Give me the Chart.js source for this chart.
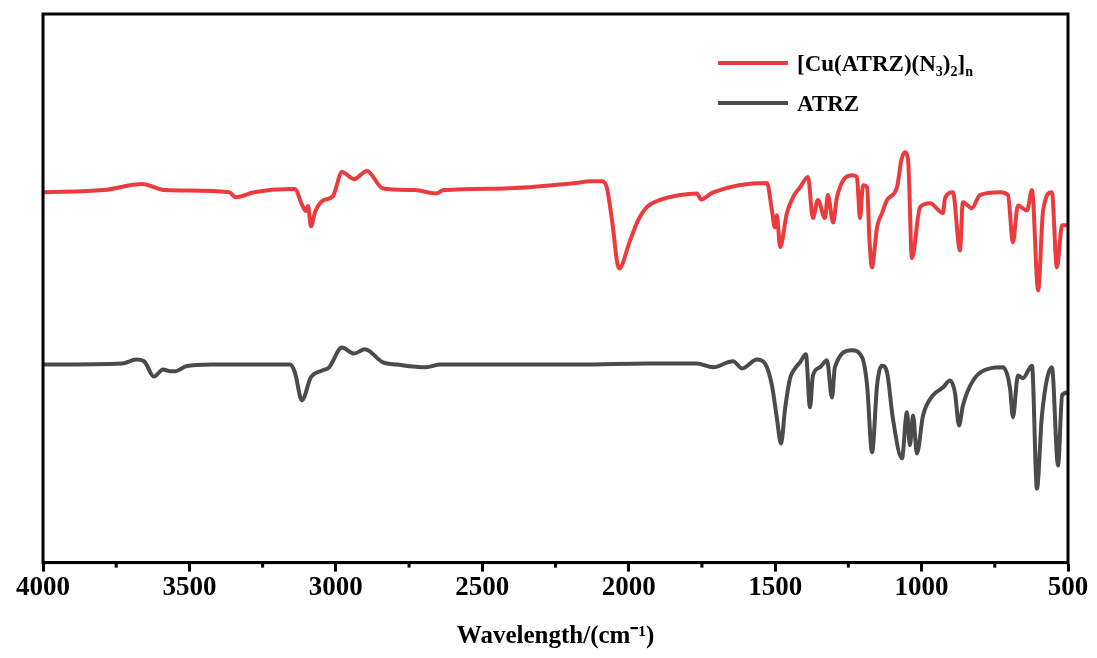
<!DOCTYPE html>
<html>
<head>
<meta charset="utf-8">
<title>IR spectra</title>
<script src="https://cdn.jsdelivr.net/npm/chart.js@4.4.1/dist/chart.umd.min.js"></script>
<style>
  html, body { margin: 0; padding: 0; background: #fff; }
  #wrap { width: 1097px; height: 658px; }
</style>
</head>
<body>
<div id="wrap"><canvas id="ir-chart" width="1097" height="658"></canvas></div>
<script>
// wavenumbers (cm-1) and transmittance (arb. units, stacked)
const cuWaves = [4000, 3792, 3662, 3583, 3365, 3341, 3280, 3157, 3140, 3116, 3102, 3095, 3085, 3071, 3047,
  3010, 2979, 2938, 2894, 2839, 2730, 2658, 2631, 2426, 2180, 2132, 2091, 2074, 2057, 2033,
  1996, 1968, 1938, 1893, 1825, 1767, 1753, 1712, 1528, 1511, 1501, 1494, 1483, 1460,
  1439, 1415, 1388, 1371, 1354, 1330, 1320, 1302, 1289, 1238, 1221, 1210, 1200, 1186, 1178,
  1169, 1162, 1152, 1135, 1118, 1084, 1069, 1057, 1046, 1033, 1005, 971, 927, 920, 893,
  869, 859, 828, 801, 732, 705, 688, 671, 640, 623, 602, 585, 555, 538, 520, 500];
const cuT = [67.5, 67.9, 69.0, 67.9, 67.5, 66.6, 67.5, 68.1, 68.1, 65.3, 64.1, 65.0, 61.3, 63.9, 65.9,
  66.8, 71.2, 69.9, 71.4, 68.2, 67.9, 67.3, 67.9, 68.2, 69.2, 69.5, 69.5, 68.2, 62.4, 53.6,
  58.6, 62.4, 64.8, 66.1, 67.0, 67.3, 66.2, 67.5, 69.2, 64.2, 61.1, 63.3, 57.5, 63.7,
  66.6, 68.4, 70.3, 62.8, 66.1, 62.8, 67.0, 62.0, 66.6, 70.6, 70.3, 62.8, 68.8, 68.4, 58.8,
  53.8, 56.4, 61.1, 63.7, 66.1, 68.4, 73.4, 74.8, 73.4, 55.5, 64.8, 65.5, 63.7, 66.4, 67.5,
  56.9, 65.7, 64.6, 67.0, 67.5, 67.0, 58.4, 65.1, 64.2, 67.9, 49.6, 64.2, 67.5, 53.8, 61.5, 61.5];

const atrzWaves = [4000, 3730, 3682, 3655, 3621, 3590, 3566, 3546, 3512, 3426, 3157, 3140, 3116, 3085, 3047,
  3023, 2979, 2938, 2901, 2839, 2791, 2692, 2644, 2166, 1938, 1767, 1712, 1644, 1613, 1562,
  1535, 1511, 1494, 1480, 1466, 1449, 1432, 1415, 1395, 1381, 1371, 1347, 1323, 1306, 1296,
  1238, 1203, 1186, 1169, 1152, 1135, 1118, 1098, 1067, 1050, 1040, 1029, 1016, 995, 961,
  927, 903, 886, 872, 859, 824, 766, 722, 698, 688, 671, 654, 623, 606, 589, 555,
  534, 520, 500];
const atrzT = [36.1, 36.3, 37.0, 36.7, 33.9, 35.2, 34.9, 34.9, 35.8, 36.1, 36.1, 34.7, 29.6, 33.8, 35.0,
  35.6, 39.2, 38.1, 38.9, 36.5, 36.1, 35.6, 36.1, 36.1, 36.3, 36.3, 35.6, 36.7, 35.4, 37.0,
  36.3, 32.3, 26.3, 21.7, 28.1, 33.6, 35.4, 36.5, 38.0, 28.3, 34.1, 35.6, 36.9, 30.1, 35.6,
  38.7, 37.4, 32.3, 20.1, 32.3, 35.9, 34.7, 26.3, 19.0, 27.4, 21.4, 26.8, 19.9, 26.8, 30.5,
  31.9, 33.2, 31.0, 25.0, 28.6, 33.2, 35.4, 35.6, 31.8, 26.5, 34.1, 33.6, 35.9, 13.5, 26.8, 35.6,
  17.7, 30.5, 31.0];

const minorTicks = [3750, 3250, 2750, 2250, 1750, 1250, 750];

// legend labels, split into [text, isSubscript] pieces
const legendLabels = [
  [['[Cu(ATRZ)(N', 0], ['3', 1], [')', 0], ['2', 1], [']', 0], ['n', 1]],
  [['ATRZ', 0]]
];

const toPoints = (xs, ys) => xs.map((x, i) => ({ x: x, y: ys[i] }));

// frame, minor ticks and the in-plot legend
const decorations = {
  id: 'decorations',
  afterDraw(chart) {
    const { ctx, chartArea, scales } = chart;
    ctx.save();
    ctx.strokeStyle = '#000';
    ctx.lineWidth = 3;
    ctx.strokeRect(chartArea.left, chartArea.top, chartArea.right - chartArea.left, chartArea.bottom - chartArea.top);

    minorTicks.forEach(v => {
      const px = scales.x.getPixelForValue(v);
      ctx.beginPath();
      ctx.moveTo(px, chartArea.bottom);
      ctx.lineTo(px, chartArea.bottom + 5);
      ctx.stroke();
    });

    // legend
    const x0 = chartArea.right - 350;
    chart.data.datasets.forEach((ds, i) => {
      const y = chartArea.top + 49 + i * 40;
      ctx.strokeStyle = ds.borderColor;
      ctx.lineWidth = 4;
      ctx.beginPath();
      ctx.moveTo(x0, y);
      ctx.lineTo(x0 + 70, y);
      ctx.stroke();

      let tx = x0 + 79;
      ctx.fillStyle = '#000';
      ctx.textBaseline = 'alphabetic';
      legendLabels[i].forEach(([txt, sub]) => {
        ctx.font = sub ? 'bold 14px "Liberation Serif"' : 'bold 23px "Liberation Serif"';
        ctx.fillText(txt, tx, y + (sub ? 13 : 8));
        tx += ctx.measureText(txt).width;
      });
    });
    ctx.restore();
  }
};

const ctx = document.getElementById('ir-chart').getContext('2d');
const chart = new Chart(ctx, {
  type: 'line',
  data: {
    datasets: [
      {
        label: '[Cu(ATRZ)(N3)2]n',
        data: toPoints(cuWaves, cuT),
        borderColor: '#ec3b3e',
        borderWidth: 4,
        pointRadius: 0,
        cubicInterpolationMode: 'monotone'
      },
      {
        label: 'ATRZ',
        data: toPoints(atrzWaves, atrzT),
        borderColor: '#4b4b4b',
        borderWidth: 4,
        pointRadius: 0,
        cubicInterpolationMode: 'monotone'
      }
    ]
  },
  options: {
    responsive: false,
    animation: false,
    layout: { padding: { left: 43, right: 29, top: 14, bottom: 6 } },
    plugins: {
      legend: { display: false },
      tooltip: { enabled: false }
    },
    scales: {
      x: {
        type: 'linear',
        reverse: true,
        min: 500,
        max: 4000,
        border: { display: true, color: '#000', width: 3 },
        grid: { drawOnChartArea: false, drawTicks: true, tickLength: 9, tickWidth: 3, tickColor: '#000' },
        ticks: {
          stepSize: 500,
          color: '#000',
          padding: 0,
          maxRotation: 0,
          font: { family: '"Liberation Serif"', weight: 'bold', size: 27 },
          callback: v => String(v)
        },
        title: {
          display: true,
          text: 'Wavelength/(cm⁻¹)',
          color: '#000',
          padding: { top: 18, bottom: 0 },
          font: { family: '"Liberation Serif"', weight: 'bold', size: 25 }
        }
      },
      y: {
        display: false,
        min: 0,
        max: 100
      }
    }
  },
  plugins: [decorations]
});
</script>
</body>
</html>
